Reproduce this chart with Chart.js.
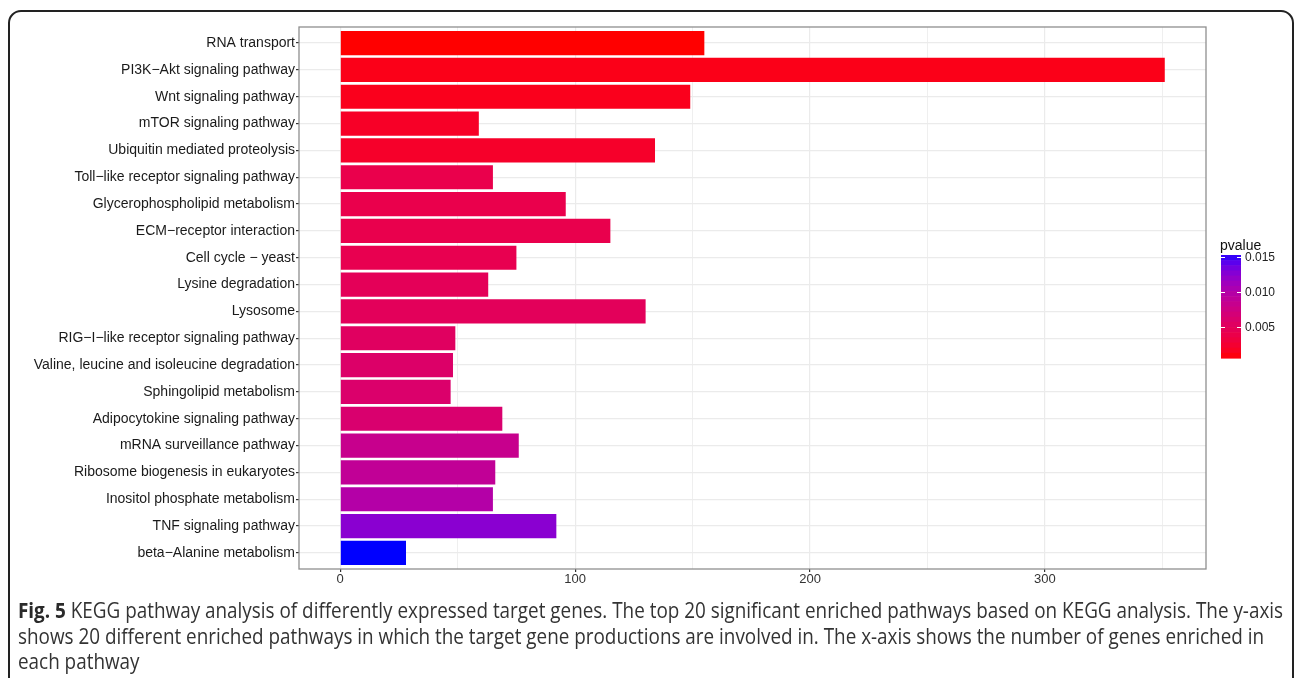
<!DOCTYPE html>
<html>
<head>
<meta charset="utf-8">
<title>KEGG pathway enrichment</title>
<script src="https://cdn.jsdelivr.net/npm/chart.js@4/dist/chart.umd.min.js"></script>
<style>
  html, body { margin: 0; padding: 0; background: #ffffff; }
  body { width: 1295px; height: 678px; position: relative; overflow: hidden; }
  #frame {
    position: absolute; left: 8px; top: 10px; width: 1286px; height: 700px;
    border: 2px solid #222; border-radius: 13px; box-sizing: border-box;
  }
  #chart { position: absolute; left: 0; top: 0; }
  #caption {
    position: absolute; left: 18px; top: 598px;
    font-family: "Open Sans", "Noto Sans", sans-serif; font-size: 21px;
    line-height: 25.5px; color: #333;
  }
  #caption .ln { white-space: nowrap; transform-origin: 0 0; }
  #caption b { font-weight: 700; color: #2a2a2a; }
</style>
</head>
<body>
<div id="frame"></div>
<canvas id="chart" width="1295" height="678"></canvas>
<div id="caption">
  <div class="ln"><b>Fig. 5</b> KEGG pathway analysis of differently expressed target genes. The top 20 significant enriched pathways based on KEGG analysis. The y-axis</div>
  <div class="ln">shows 20 different enriched pathways in which the target gene productions are involved in. The x-axis shows the number of genes enriched in</div>
  <div class="ln">each pathway</div>
</div>
<script>
// Pathways, ordered from most to least significant (top to bottom)
const categories = [
  "RNA transport",
  "PI3K\u2212Akt signaling pathway",
  "Wnt signaling pathway",
  "mTOR signaling pathway",
  "Ubiquitin mediated proteolysis",
  "Toll\u2212like receptor signaling pathway",
  "Glycerophospholipid metabolism",
  "ECM\u2212receptor interaction",
  "Cell cycle \u2212 yeast",
  "Lysine degradation",
  "Lysosome",
  "RIG\u2212I\u2212like receptor signaling pathway",
  "Valine, leucine and isoleucine degradation",
  "Sphingolipid metabolism",
  "Adipocytokine signaling pathway",
  "mRNA surveillance pathway",
  "Ribosome biogenesis in eukaryotes",
  "Inositol phosphate metabolism",
  "TNF signaling pathway",
  "beta\u2212Alanine metabolism"
];

// Number of genes enriched in each pathway
const geneCounts = [155, 351, 149, 59, 134, 65, 96, 115, 75, 63, 130, 49, 48, 47, 69, 76, 66, 65, 92, 28];

// Enrichment p-value of each pathway
const pValues = [0.00057, 0.00123, 0.00138, 0.0019, 0.00204, 0.0040, 0.0040, 0.0041, 0.0043, 0.0048,
                 0.0049, 0.0053, 0.0058, 0.0060, 0.0062, 0.0082, 0.0088, 0.0099, 0.0125, 0.0153];

// Axis and colour-bar tick labels
const xTickValues = [0, 100, 200, 300];
const legendTicks = [0.005, 0.010, 0.015];
const legendTitle = "pvalue";

// ---- colour scale: red (low p) to blue (high p), interpolated in CIE Lab ----
function toLinear(c) { c /= 255; return c <= 0.04045 ? c / 12.92 : Math.pow((c + 0.055) / 1.055, 2.4); }
function fromLinear(c) {
  c = c <= 0.0031308 ? 12.92 * c : 1.055 * Math.pow(c, 1 / 2.4) - 0.055;
  return Math.max(0, Math.min(255, Math.round(c * 255)));
}
const WN = [0.95047, 1.0, 1.08883];
function rgbToLab(rgb) {
  const [r, g, b] = rgb.map(toLinear);
  const X = (0.4124564 * r + 0.3575761 * g + 0.1804375 * b) / WN[0];
  const Y = (0.2126729 * r + 0.7151522 * g + 0.0721750 * b) / WN[1];
  const Z = (0.0193339 * r + 0.1191920 * g + 0.9503041 * b) / WN[2];
  const f = t => t > 0.008856 ? Math.cbrt(t) : 7.787 * t + 16 / 116;
  const fx = f(X), fy = f(Y), fz = f(Z);
  return [116 * fy - 16, 500 * (fx - fy), 200 * (fy - fz)];
}
function labToRgb(lab) {
  const [L, a, bb] = lab;
  const fy = (L + 16) / 116, fx = fy + a / 500, fz = fy - bb / 200;
  const inv = t => t * t * t > 0.008856 ? t * t * t : (t - 16 / 116) / 7.787;
  const X = inv(fx) * WN[0], Y = inv(fy) * WN[1], Z = inv(fz) * WN[2];
  const r = 3.2404542 * X - 1.5371385 * Y - 0.4985314 * Z;
  const g = -0.9692660 * X + 1.8760108 * Y + 0.0415560 * Z;
  const b = 0.0556434 * X - 0.2040259 * Y + 1.0572252 * Z;
  return [fromLinear(r), fromLinear(g), fromLinear(b)];
}
const LOW_LAB = rgbToLab([255, 0, 0]);
const HIGH_LAB = rgbToLab([0, 0, 255]);
const pMin = Math.min(...pValues);
const pMax = Math.max(...pValues);
function colourFor(p) {
  const t = Math.max(0, Math.min(1, (p - pMin) / (pMax - pMin)));
  const lab = LOW_LAB.map((v, i) => v + (HIGH_LAB[i] - v) * t);
  const [r, g, b] = labToRgb(lab);
  return `rgb(${r},${g},${b})`;
}
const barColours = pValues.map(colourFor);

const countMax = Math.max(...geneCounts);
const FONT = "'Liberation Sans', Arial, sans-serif";

// Panel border plus the p-value colour bar legend
const panelAndLegend = {
  id: 'panelAndLegend',
  afterDraw(chart) {
    const ctx = chart.ctx;
    const ca = chart.chartArea;
    ctx.save();
    ctx.strokeStyle = '#8f8f8f';
    ctx.lineWidth = 1.3;
    ctx.strokeRect(ca.left, ca.top, ca.right - ca.left, ca.bottom - ca.top);

    // colour bar
    const bx = 1221, bw = 20, top = 255, bottom = 358, nbin = 20;
    const h = (bottom - top) / nbin;
    for (let i = 0; i < nbin; i++) {
      const p = pMax - (pMax - pMin) * (i + 0.5) / nbin;
      ctx.fillStyle = colourFor(p);
      ctx.fillRect(bx, top + i * h, bw, h + 0.6);
    }
    const yOf = p => top + (pMax - p) / (pMax - pMin) * (bottom - top);
    ctx.strokeStyle = '#ffffff';
    ctx.lineWidth = 1;
    ctx.fillStyle = '#222';
    ctx.font = `12px ${FONT}`;
    ctx.textAlign = 'left';
    ctx.textBaseline = 'middle';
    legendTicks.forEach(v => {
      const y = Math.round(yOf(v)) + 0.5;
      ctx.beginPath();
      ctx.moveTo(bx, y); ctx.lineTo(bx + 4, y);
      ctx.moveTo(bx + bw - 4, y); ctx.lineTo(bx + bw, y);
      ctx.stroke();
      ctx.fillText(v.toFixed(3), bx + bw + 4, y);
    });
    ctx.fillStyle = '#111';
    ctx.font = `14px ${FONT}`;
    ctx.fillText(legendTitle, 1220, 246);
    ctx.restore();
  }
};

new Chart(document.getElementById('chart'), {
  type: 'bar',
  data: {
    datasets: [{
      data: geneCounts.map((v, i) => ({ x: v, y: i })),
      backgroundColor: barColours,
      borderWidth: 0,
      barPercentage: 0.9,
      categoryPercentage: 1.0
    }]
  },
  options: {
    indexAxis: 'y',
    responsive: false,
    animation: false,
    events: [],
    layout: { padding: { top: 27, right: 89, bottom: 0, left: 0 } },
    plugins: { legend: { display: false }, tooltip: { enabled: false }, title: { display: false } },
    scales: {
      x: {
        type: 'linear',
        min: -0.05 * countMax,
        max: 1.05 * countMax,
        afterBuildTicks: s => {
          const t = [];
          for (let v = 0; v <= s.max; v += 50) t.push({ value: v });
          s.ticks = t;
        },
        afterFit: s => { s.height = 109; },
        border: { display: false },
        grid: {
          color: '#ebebeb',
          lineWidth: c => (c.tick && c.tick.value % 100 === 0) ? 1.2 : 0.8,
          tickLength: 3,
          tickColor: c => (c.tick && xTickValues.includes(c.tick.value)) ? '#333' : 'rgba(0,0,0,0)'
        },
        ticks: {
          autoSkip: false,
          maxRotation: 0,
          padding: 0,
          color: '#333',
          font: { family: FONT, size: 13 },
          callback: v => xTickValues.includes(v) ? String(v) : ''
        }
      },
      y: {
        type: 'linear',
        reverse: true,
        offset: false,
        min: -0.6,
        max: categories.length - 0.4,
        afterBuildTicks: s => { s.ticks = categories.map((_, i) => ({ value: i })); },
        afterFit: s => { s.width = 299; },
        border: { display: false },
        grid: { offset: false, color: '#ebebeb', lineWidth: 1.2, tickLength: 3, tickColor: '#333' },
        ticks: {
          autoSkip: false,
          padding: 1,
          color: '#1a1a1a',
          font: { family: FONT, size: 14 },
          callback: v => categories[v] !== undefined ? categories[v] : ''
        }
      }
    }
  },
  plugins: [panelAndLegend]
});

// Fit caption lines to the frame width
function fitCaption() {
  const lines = document.querySelectorAll('#caption .ln');
  lines.forEach(l => l.style.transform = 'none');
  const w = lines[0].scrollWidth;
  const s = 1265 / w;
  lines.forEach(l => l.style.transform = `scaleX(${s})`);
}
fitCaption();
if (document.fonts && document.fonts.ready) document.fonts.ready.then(fitCaption);
</script>
</body>
</html>
